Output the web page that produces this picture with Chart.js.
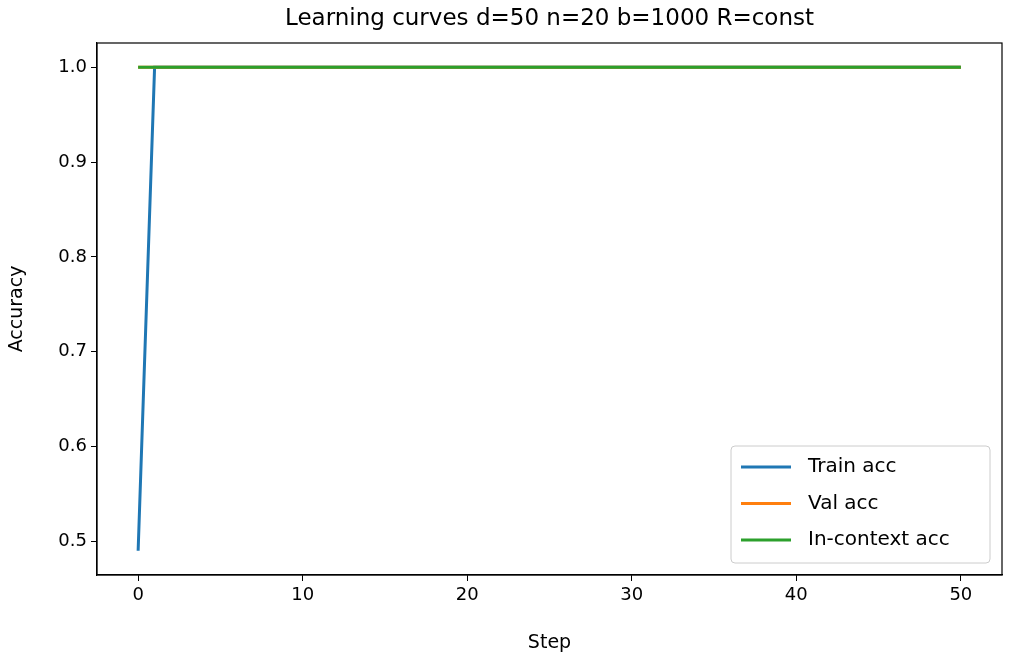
<!DOCTYPE html>
<html>
<head>
<meta charset="utf-8">
<script src="https://cdn.jsdelivr.net/npm/chart.js@4"></script>
<style>
  body { margin: 0; background: #fff; }
  #wrap { width: 1010px; height: 658px; }
</style>
</head>
<body>
<div id="wrap"><canvas id="curveChart"></canvas></div>
<script>
// データ
const steps = Array.from({length: 51}, (_, i) => i);
const trainAcc = [0.49].concat(Array(50).fill(1.0));
const valAcc = Array(51).fill(1.0);
const inContextAcc = Array(51).fill(1.0);
const xTicks = [0, 10, 20, 30, 40, 50];
const yTicks = [0.5, 0.6, 0.7, 0.8, 0.9, 1.0];

const FONT = 'DejaVu Sans';

const pts = arr => arr.map((v, i) => ({x: steps[i], y: v}));

// 枠・タイトル・凡例を描く
const framePlugin = {
  id: 'frame',
  afterDraw(chart) {
    const {ctx, chartArea: a} = chart;
    ctx.save();
    ctx.strokeStyle = '#000';
    ctx.lineWidth = 1.2;
    ctx.strokeRect(a.left, a.top, a.right - a.left, a.bottom - a.top);
    ctx.fillStyle = '#000';
    ctx.font = '23px ' + FONT;
    ctx.textAlign = 'center';
    ctx.textBaseline = 'middle';
    ctx.fillText('Learning curves d=50 n=20 b=1000 R=const', (a.left + a.right) / 2, 19);

    // legend
    const lx = 731, ly = 446, lw = 259, lh = 117;
    ctx.fillStyle = 'rgba(255,255,255,0.8)';
    ctx.strokeStyle = '#ccc';
    ctx.lineWidth = 1;
    ctx.beginPath();
    ctx.roundRect(lx, ly, lw, lh, 4);
    ctx.fill();
    ctx.stroke();
    ctx.textAlign = 'left';
    ctx.font = '20px ' + FONT;
    chart.data.datasets.forEach((ds, i) => {
      const y = 467 + i * 36.5;
      ctx.strokeStyle = ds.borderColor;
      ctx.lineWidth = 3;
      ctx.beginPath();
      ctx.moveTo(741, y);
      ctx.lineTo(791, y);
      ctx.stroke();
      ctx.fillStyle = '#000';
      ctx.fillText(ds.label, 808, y);
    });
    ctx.restore();
  }
};

const ctx = document.getElementById('curveChart').getContext('2d');
new Chart(ctx, {
  type: 'line',
  data: {
    datasets: [
      {label: 'Train acc', data: pts(trainAcc), borderColor: '#1f77b4', order: 3},
      {label: 'Val acc', data: pts(valAcc), borderColor: '#ff7f0e', order: 2},
      {label: 'In-context acc', data: pts(inContextAcc), borderColor: '#2ca02c', order: 1}
    ]
  },
  options: {
    responsive: true,
    maintainAspectRatio: false,
    animation: false,
    devicePixelRatio: 1,
    layout: {padding: {top: 43, right: 8, left: 0, bottom: 0}},
    elements: {
      point: {radius: 0},
      line: {borderWidth: 3, tension: 0}
    },
    plugins: {legend: {display: false}, tooltip: {enabled: false}},
    scales: {
      x: {
        type: 'linear',
        min: -2.5,
        max: 52.5,
        afterBuildTicks: s => { s.ticks = xTicks.map(v => ({value: v})); },
        afterFit: s => { s.height = 83; },
        grid: {drawOnChartArea: false, tickLength: 6, color: '#000'},
        border: {color: '#000', width: 1.2},
        ticks: {color: '#000', font: {family: FONT, size: 18}, padding: 4, maxRotation: 0},
        title: {display: true, text: 'Step', color: '#000', font: {family: FONT, size: 19}, padding: {top: 0}}
      },
      y: {
        min: 0.4645,
        max: 1.0255,
        afterBuildTicks: s => { s.ticks = yTicks.map(v => ({value: v})); },
        afterFit: s => { s.width = 97; },
        grid: {drawOnChartArea: false, tickLength: 6, color: '#000'},
        border: {color: '#000', width: 1.2},
        ticks: {color: '#000', font: {family: FONT, size: 18}, padding: 4, callback: v => v.toFixed(1)},
        title: {display: true, text: 'Accuracy', color: '#000', font: {family: FONT, size: 19}, padding: {top: 6, bottom: 2}}
      }
    }
  },
  plugins: [framePlugin]
});
</script>
</body>
</html>
